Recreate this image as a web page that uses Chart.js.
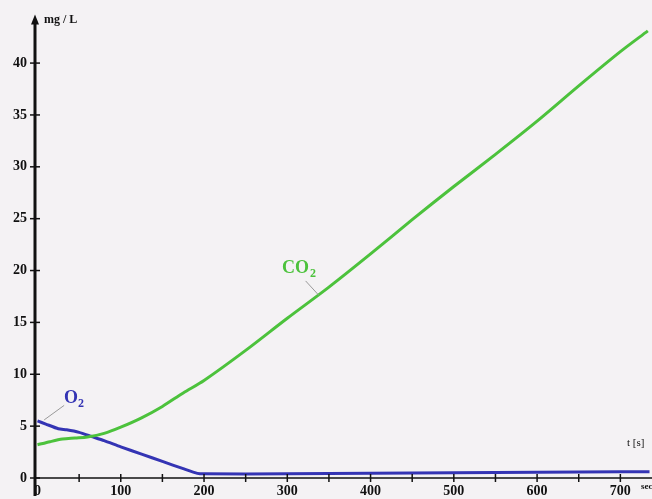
<!DOCTYPE html>
<html>
<head>
<meta charset="utf-8">
<script src="https://cdn.jsdelivr.net/npm/chart.js@4.4.0/dist/chart.umd.min.js"></script>
<style>
  html, body { margin: 0; padding: 0; background: #f4f2f4; }
  #wrap { width: 652px; height: 499px; }
</style>
</head>
<body>
<div id="wrap"><canvas id="gasChart"></canvas></div>
<script>
// time (s) and concentration (mg/L)
const co2Time = [0, 15, 30, 45, 60, 80, 100, 125, 150, 175, 200, 250, 300, 350, 400, 450, 500, 550, 600, 650, 700, 733];
const co2Vals = [3.2, 3.5, 3.75, 3.85, 3.95, 4.3, 4.9, 5.8, 6.9, 8.2, 9.4, 12.3, 15.4, 18.4, 21.6, 24.9, 28.1, 31.2, 34.4, 37.8, 41.1, 43.1];
const o2Time = [0, 10, 25, 35, 50, 65, 80, 100, 125, 150, 175, 192, 200, 300, 400, 500, 600, 700, 735];
const o2Vals = [5.5, 5.2, 4.75, 4.65, 4.4, 4.0, 3.6, 3.0, 2.3, 1.6, 0.9, 0.45, 0.4, 0.4, 0.45, 0.5, 0.55, 0.6, 0.6];
const xTicks = [0, 100, 200, 300, 400, 500, 600, 700];
const yTicks = [0, 5, 10, 15, 20, 25, 30, 35, 40];

const serif = '"Liberation Serif", "DejaVu Serif", serif';
const co2Color = '#4cc23c';
const o2Color = '#3434b4';

const toPoints = (xs, ys) => xs.map((x, i) => ({ x: x, y: ys[i] }));

// axis arrow, crossing tick marks and the text labels
const decorations = {
    id: 'decorations',
    afterDraw(chart) {
        const ctx = chart.ctx;
        const xs = chart.scales.x;
        const ys = chart.scales.y;
        const x0 = xs.getPixelForValue(-3);
        const y0 = ys.getPixelForValue(0);
        ctx.save();
        ctx.strokeStyle = '#111';
        ctx.fillStyle = '#111';

        // y axis with arrow head
        ctx.lineWidth = 3;
        ctx.beginPath();
        ctx.moveTo(x0, chart.chartArea.top + 4);
        ctx.lineTo(x0, 496);
        ctx.stroke();
        ctx.beginPath();
        ctx.moveTo(x0, chart.chartArea.top - 2);
        ctx.lineTo(x0 - 4, chart.chartArea.top + 8);
        ctx.lineTo(x0 + 4, chart.chartArea.top + 8);
        ctx.closePath();
        ctx.fill();

        // x axis
        ctx.lineWidth = 1.5;
        ctx.beginPath();
        ctx.moveTo(x0, y0);
        ctx.lineTo(chart.chartArea.right, y0);
        ctx.stroke();

        // y ticks
        yTicks.forEach(v => {
            const py = ys.getPixelForValue(v);
            ctx.beginPath();
            ctx.moveTo(x0 - 5, py);
            ctx.lineTo(x0 + 5, py);
            ctx.stroke();
        });
        // x ticks every 50
        for (let v = 50; v <= 700; v += 50) {
            const px = xs.getPixelForValue(v);
            ctx.beginPath();
            ctx.moveTo(px, y0 - 4);
            ctx.lineTo(px, y0 + 4);
            ctx.stroke();
        }

        // texts
        ctx.font = 'bold 12px ' + serif;
        ctx.textBaseline = 'middle';
        ctx.textAlign = 'left';
        ctx.fillText('mg / L', 44, 20);
        ctx.font = '11px ' + serif;
        ctx.fillText('t [s]', 627, 443);
        ctx.font = 'bold 9px ' + serif;
        ctx.fillText('sec', 641, 487);

        // series labels with leader lines
        ctx.strokeStyle = '#999';
        ctx.lineWidth = 1;
        ctx.beginPath();
        ctx.moveTo(xs.getPixelForValue(322), ys.getPixelForValue(19));
        ctx.lineTo(xs.getPixelForValue(338), ys.getPixelForValue(17.6));
        ctx.stroke();
        ctx.beginPath();
        ctx.moveTo(xs.getPixelForValue(32), ys.getPixelForValue(7.0));
        ctx.lineTo(xs.getPixelForValue(8), ys.getPixelForValue(5.6));
        ctx.stroke();

        ctx.font = 'bold 18px ' + serif;
        ctx.fillStyle = co2Color;
        ctx.fillText('CO', 282, 268);
        ctx.font = 'bold 12px ' + serif;
        ctx.fillText('2', 310, 274);
        ctx.font = 'bold 18px ' + serif;
        ctx.fillStyle = o2Color;
        ctx.fillText('O', 64, 398);
        ctx.font = 'bold 12px ' + serif;
        ctx.fillText('2', 78, 404);
        ctx.restore();
    }
};

new Chart(document.getElementById('gasChart'), {
    type: 'line',
    data: {
        datasets: [{
            label: 'CO2',
            data: toPoints(co2Time, co2Vals),
            borderColor: co2Color,
            borderWidth: 3,
            pointRadius: 0,
            tension: 0.3
        }, {
            label: 'O2',
            data: toPoints(o2Time, o2Vals),
            borderColor: o2Color,
            borderWidth: 3,
            pointRadius: 0,
            tension: 0.2
        }]
    },
    options: {
        responsive: true,
        maintainAspectRatio: false,
        animation: false,
        layout: { padding: { top: 15, right: 0, left: 0, bottom: 0 } },
        plugins: {
            legend: { display: false },
            tooltip: { enabled: false }
        },
        scales: {
            x: {
                type: 'linear',
                min: -3,
                max: 738,
                border: { display: false },
                grid: { display: false, drawTicks: false, tickLength: 0 },
                afterFit: s => { s.height = 21; },
                afterBuildTicks: s => { s.ticks = xTicks.map(v => ({ value: v })); },
                ticks: {
                    color: '#111',
                    padding: 5,
                    maxRotation: 0,
                    autoSkip: false,
                    font: { family: serif, size: 14, weight: 'bold' }
                }
            },
            y: {
                min: 0,
                max: 44.5,
                border: { display: false },
                grid: { display: false, drawTicks: false, tickLength: 0 },
                afterFit: s => { s.width = 35; },
                afterBuildTicks: s => { s.ticks = yTicks.map(v => ({ value: v })); },
                ticks: {
                    color: '#111',
                    padding: 8,
                    font: { family: serif, size: 14, weight: 'bold' }
                }
            }
        }
    },
    plugins: [decorations]
});
</script>
</body>
</html>
